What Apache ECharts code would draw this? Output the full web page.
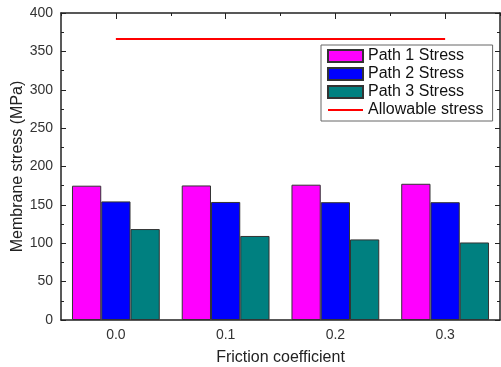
<!DOCTYPE html>
<html>
<head>
<meta charset="utf-8">
<script src="https://cdn.jsdelivr.net/npm/echarts@6/dist/echarts.min.js"></script>
<style>
  html, body { margin: 0; padding: 0; background: #fff; }
  #main { width: 501px; height: 367px; }
</style>
</head>
<body>
<div id="main"></div>
<script>
const categories = ['0.0', '0.1', '0.2', '0.3'];
const path1 = [175, 175.3, 176.3, 177.5];
const path2 = [154.5, 153.8, 153.5, 153.5];
const path3 = [118.5, 109.5, 105, 101];
const allowable = [366, 366, 366, 366];

const chart = echarts.init(document.getElementById('main'));
const font = 'Liberation Sans, Arial, sans-serif';
const axisColor = '#222';
const border = { borderColor: '#333', borderWidth: 1 };

chart.setOption({
  animation: false,
  textStyle: { fontFamily: font },
  grid: { left: 61, right: 1, top: 13, bottom: 47, outerBoundsMode: 'none', containLabel: false },
  legend: {
    orient: 'vertical',
    left: 321,
    top: 45,
    padding: [3, 9, 3, 6],
    itemWidth: 35,
    itemHeight: 12,
    itemGap: 2,
    backgroundColor: '#fff',
    borderColor: '#666',
    borderWidth: 1,
    textStyle: { fontSize: 16, color: '#111', fontFamily: font },
    data: [
      { name: 'Path 1 Stress', icon: 'rect' },
      { name: 'Path 2 Stress', icon: 'rect' },
      { name: 'Path 3 Stress', icon: 'rect' },
      { name: 'Allowable stress', itemStyle: { opacity: 0 } }
    ]
  },
  xAxis: [
    {
      type: 'category',
      data: categories,
      name: 'Friction coefficient',
      nameLocation: 'middle',
      nameGap: 30,
      nameMoveOverlap: false,
      nameTextStyle: { fontSize: 16, color: '#222' },
      axisLine: { lineStyle: { color: axisColor, width: 1.5 } },
      axisTick: { show: false },
      axisLabel: { fontSize: 14, color: '#333', margin: 8 }
    },
    {
      // top frame: short ticks at category boundaries, longer ones at centres
      type: 'value',
      position: 'top',
      min: 0,
      max: 8,
      interval: 2,
      axisLine: { show: true, onZero: false, lineStyle: { color: axisColor, width: 1.5 } },
      axisTick: { show: true, inside: true, length: 3, lineStyle: { color: axisColor } },
      minorTick: { show: true, splitNumber: 2, length: 6, lineStyle: { color: axisColor } },
      axisLabel: { show: false },
      splitLine: { show: false }
    }
  ],
  yAxis: [
    {
      type: 'value',
      min: 0,
      max: 400,
      interval: 50,
      name: 'Membrane stress (MPa)',
      nameLocation: 'middle',
      nameGap: 35,
      nameMoveOverlap: false,
      nameTextStyle: { fontSize: 16, color: '#222' },
      axisLine: { show: true, lineStyle: { color: axisColor, width: 1.5 } },
      axisTick: { show: true, inside: true, length: 5, lineStyle: { color: axisColor } },
      minorTick: { show: true, splitNumber: 2, length: 3, lineStyle: { color: axisColor } },
      axisLabel: { fontSize: 14, color: '#333', margin: 8 },
      splitLine: { show: false }
    },
    {
      type: 'value',
      min: 0,
      max: 400,
      interval: 50,
      position: 'right',
      axisLine: { show: true, lineStyle: { color: axisColor, width: 1.5 } },
      axisTick: { show: true, inside: true, length: 5, lineStyle: { color: axisColor } },
      minorTick: { show: true, splitNumber: 2, length: 3, lineStyle: { color: axisColor } },
      axisLabel: { show: false },
      splitLine: { show: false }
    }
  ],
  series: [
    {
      name: 'Path 1 Stress', type: 'bar', data: path1,
      barGap: '0%', barCategoryGap: '20%',
      itemStyle: Object.assign({ color: '#ff00ff' }, border)
    },
    {
      name: 'Path 2 Stress', type: 'bar', data: path2,
      itemStyle: Object.assign({ color: '#0000ff' }, border)
    },
    {
      name: 'Path 3 Stress', type: 'bar', data: path3,
      itemStyle: Object.assign({ color: '#008080' }, border)
    },
    {
      name: 'Allowable stress', type: 'line', data: allowable,
      symbol: 'none',
      lineStyle: { color: '#ff0000', width: 2 },
      itemStyle: { color: '#ff0000' },
      z: 5
    }
  ]
});
</script>
</body>
</html>
